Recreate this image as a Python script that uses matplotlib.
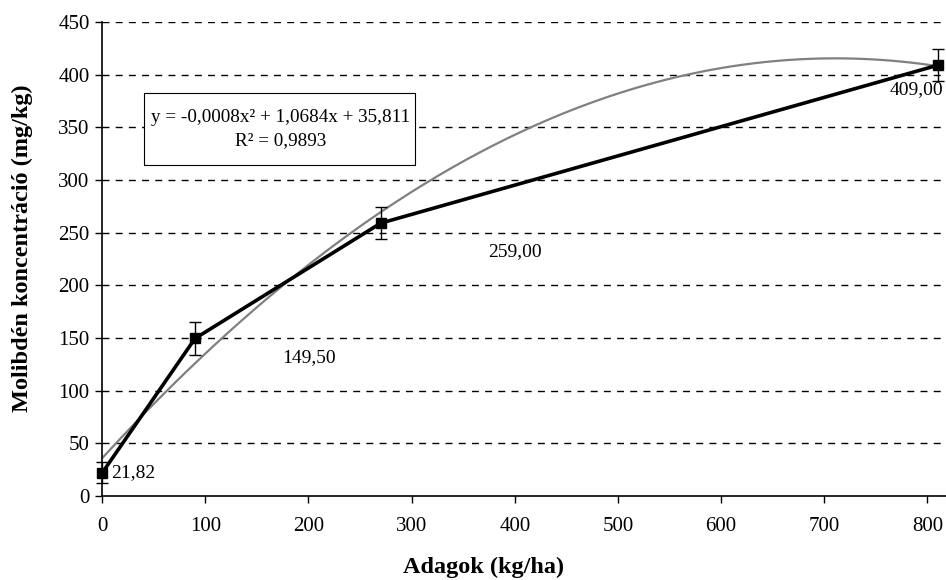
import numpy as np
import matplotlib
matplotlib.use("Agg")
import matplotlib.pyplot as plt
from matplotlib.patches import Rectangle

# data
doses = [0, 90, 270, 810]
mo_conc = [21.82, 149.5, 259.0, 409.0]
errors = [10, 16, 15, 15]
point_labels = ["21,82", "149,50", "259,00", "409,00"]
y_ticks = [0, 50, 100, 150, 200, 250, 300, 350, 400, 450]
x_ticks = [0, 100, 200, 300, 400, 500, 600, 700, 800]

plt.rcParams['font.family'] = ['Liberation Serif', 'DejaVu Serif']

fig = plt.figure(figsize=(9.46, 5.8), dpi=100)
ax = fig.add_axes([0.108, 0.145, 0.892, 0.817])

ax.set_xlim(0, 818)
ax.set_ylim(0, 450)
ax.set_yticks(y_ticks)
ax.set_xticks(x_ticks)
for y in y_ticks[1:]:
    ax.axhline(y, color='black', lw=1.0, ls=(0, (5, 4.5)), zorder=1)

# polynomial trendline (2nd order) fitted on the points
coef = np.polyfit(doses, mo_conc, 2)
xs = np.linspace(doses[0], doses[-1], 300)
ax.plot(xs, np.polyval(coef, xs), color='#808080', lw=1.6, zorder=2)

ax.errorbar(doses, mo_conc, yerr=errors, color='black', lw=2.6, marker='s',
            markersize=7, ecolor='black', elinewidth=1, capsize=4, capthick=1,
            zorder=3, clip_on=False)

ax.text(9, 21.82, point_labels[0], fontsize=14, va='center', ha='left')
ax.text(201, 131, point_labels[1], fontsize=14, va='center', ha='center')
ax.text(400, 232, point_labels[2], fontsize=14, va='center', ha='center')
ax.text(815, 386, point_labels[3], fontsize=14, va='center', ha='right')

# trendline equation box
ax.add_patch(Rectangle((0.05, 0.698), 0.321, 0.152, transform=ax.transAxes,
                       fc='white', ec='black', lw=0.8, zorder=4))
ax.text(0.212, 0.774, "y = -0,0008x\u00b2 + 1,0684x + 35,811\nR\u00b2 = 0,9893",
        transform=ax.transAxes, fontsize=13.8, ha='center', va='center',
        multialignment='center', linespacing=1.5, zorder=5)

for s in ['top', 'right']:
    ax.spines[s].set_visible(False)
ax.spines['left'].set_linewidth(1.2)
ax.spines['bottom'].set_linewidth(1.2)
ax.tick_params(direction='out', length=5, width=1, labelsize=15, pad=4)
ax.tick_params(axis='x', pad=10)

fig.text(0.511, 0.021, "Adagok (kg/ha)", fontsize=17.5, fontweight='bold',
         ha='center', va='center')
fig.text(0.024, 0.572, "Molibdén koncentráció (mg/kg)", fontsize=17.5,
         fontweight='bold', ha='center', va='center', rotation=90)

fig.savefig("out.png", dpi=100)
